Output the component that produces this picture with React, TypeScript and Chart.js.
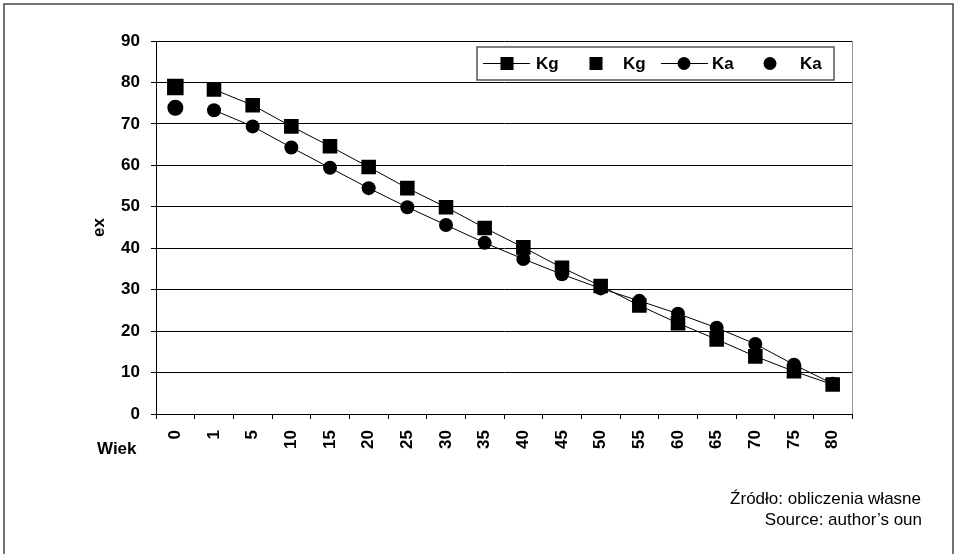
import React, { useEffect, useRef } from "react";
import { Chart, registerables } from "chart.js";

Chart.register(...registerables);

const ages = ["0", "1", "5", "10", "15", "20", "25", "30", "35", "40", "45", "50", "55", "60", "65", "70", "75", "80"];
const kgLine = [null, 78.3, 74.5, 69.4, 64.6, 59.6, 54.5, 49.9, 44.9, 40.2, 35.3, 30.9, 26.2, 21.9, 18.0, 13.9, 10.3, 7.1];
const kgPoint = [78.9];
const kaLine = [null, 73.3, 69.4, 64.3, 59.4, 54.5, 49.9, 45.6, 41.3, 37.4, 33.7, 30.3, 27.3, 24.2, 20.8, 16.9, 11.9, 7.3];
const kaPoint = [73.9];
const yTicks = [0, 10, 20, 30, 40, 50, 60, 70, 80, 90];
const legendLabels = ["Kg", "Kg", "Ka", "Ka"];
const yTitle = "ex";
const xTitle = "Wiek";
const sourceLines = ["Źródło: obliczenia własne", "Source: author’s oun"];

const FONT = "'Liberation Sans', Arial, sans-serif";

const extrasPlugin = {
  id: "extras",
  afterDraw(chart: any) {
    const ctx = chart.ctx;
    const ca = chart.chartArea;
    ctx.save();
    // outer frame
    ctx.strokeStyle = "#444";
    ctx.lineWidth = 1.5;
    ctx.beginPath();
    ctx.moveTo(4, 560);
    ctx.lineTo(4, 4);
    ctx.lineTo(953, 4);
    ctx.lineTo(953, 560);
    ctx.stroke();
    // right border of plot
    ctx.strokeStyle = "#999";
    ctx.lineWidth = 1;
    ctx.beginPath();
    ctx.moveTo(Math.round(ca.right) + 0.5, ca.top);
    ctx.lineTo(Math.round(ca.right) + 0.5, ca.bottom);
    ctx.stroke();

    // axis titles
    ctx.fillStyle = "#000";
    ctx.font = `bold 17px ${FONT}`;
    ctx.textAlign = "center";
    ctx.textBaseline = "middle";
    ctx.save();
    ctx.translate(99, (ca.top + ca.bottom) / 2);
    ctx.rotate(-Math.PI / 2);
    ctx.fillText(yTitle, 0, 0);
    ctx.restore();
    ctx.textAlign = "left";
    ctx.textBaseline = "alphabetic";
    ctx.fillText(xTitle, 97, 454);

    // legend
    const bx = 477, by = 47, bw = 357, bh = 33;
    ctx.fillStyle = "#fff";
    ctx.fillRect(bx, by, bw, bh);
    ctx.strokeStyle = "#555";
    ctx.lineWidth = 1.5;
    ctx.strokeRect(bx, by, bw, bh);
    const cy = by + bh / 2;
    ctx.fillStyle = "#000";
    ctx.strokeStyle = "#000";
    ctx.lineWidth = 1;
    const drawLine = (x1: number, x2: number) => {
      ctx.beginPath();
      ctx.moveTo(x1, cy);
      ctx.lineTo(x2, cy);
      ctx.stroke();
    };
    const sq = (x: number) => ctx.fillRect(x - 6.5, cy - 6.5, 13, 13);
    const circ = (x: number) => {
      ctx.beginPath();
      ctx.arc(x, cy, 6.5, 0, Math.PI * 2);
      ctx.fill();
    };
    drawLine(483, 530);
    sq(507);
    sq(596);
    drawLine(661, 708);
    circ(684);
    circ(770);
    ctx.font = `bold 17px ${FONT}`;
    ctx.textAlign = "left";
    ctx.textBaseline = "middle";
    ctx.fillText(legendLabels[0], 536, cy + 1);
    ctx.fillText(legendLabels[1], 623, cy + 1);
    ctx.fillText(legendLabels[2], 712, cy + 1);
    ctx.fillText(legendLabels[3], 800, cy + 1);

    // source text
    ctx.font = `17px ${FONT}`;
    ctx.textAlign = "right";
    ctx.textBaseline = "alphabetic";
    ctx.fillText(sourceLines[0], 921, 504);
    ctx.fillText(sourceLines[1], 922, 525);
    ctx.restore();
  },
};

export default function App() {
  const ref = useRef<HTMLCanvasElement>(null);
  useEffect(() => {
    if (!ref.current) return;
    const chart = new Chart(ref.current, {
      type: "line",
      data: {
        labels: ages,
        datasets: [
          {
            label: legendLabels[0],
            data: kgLine,
            borderColor: "#000",
            borderWidth: 1,
            pointStyle: "rect",
            pointRadius: 10.3,
            pointBackgroundColor: "#000",
            pointBorderColor: "#000",
            pointBorderWidth: 0,
            tension: 0,
          },
          {
            label: legendLabels[1],
            data: kgPoint,
            showLine: false,
            pointStyle: "rect",
            pointRadius: 11.7,
            pointBackgroundColor: "#000",
            pointBorderColor: "#000",
            pointBorderWidth: 0,
          },
          {
            label: legendLabels[2],
            data: kaLine,
            borderColor: "#000",
            borderWidth: 1,
            pointStyle: "circle",
            pointRadius: 7,
            pointBackgroundColor: "#000",
            pointBorderColor: "#000",
            pointBorderWidth: 0,
            tension: 0,
          },
          {
            label: legendLabels[3],
            data: kaPoint,
            showLine: false,
            pointStyle: "circle",
            pointRadius: 8,
            pointBackgroundColor: "#000",
            pointBorderColor: "#000",
            pointBorderWidth: 0,
          },
        ],
      },
      options: {
        animation: false,
        responsive: false,
        layout: { padding: { left: 0, top: 41, right: 103, bottom: 0 } },
        plugins: { legend: { display: false }, tooltip: { enabled: false } },
        scales: {
          x: {
            type: "category",
            offset: true,
            grid: { offset: true, drawOnChartArea: false, drawTicks: true, tickLength: 5, color: "#000" },
            border: { color: "#000", width: 1 },
            ticks: {
              autoSkip: false,
              minRotation: 90,
              maxRotation: 90,
              padding: 11,
              color: "#000",
              font: { family: FONT, size: 17, weight: "bold" },
            },
            afterFit: (s: any) => {
              s.height = 140;
            },
          },
          y: {
            min: 0,
            max: 90,
            afterBuildTicks: (s: any) => {
              s.ticks = yTicks.map((v) => ({ value: v }));
            },
            grid: { color: "#000", tickLength: 5, drawTicks: true },
            border: { color: "#000", width: 1 },
            ticks: {
              padding: 11,
              color: "#000",
              font: { family: FONT, size: 17, weight: "bold" },
            },
            afterFit: (s: any) => {
              s.width = 156;
            },
          },
        },
      },
      plugins: [extrasPlugin],
    });
    return () => chart.destroy();
  }, []);
  return (
    <div style={{ position: "absolute", left: 0, top: 0, width: 955, height: 554, background: "#fff" }}>
      <canvas ref={ref} width={955} height={554} style={{ display: "block" }} />
    </div>
  );
}
